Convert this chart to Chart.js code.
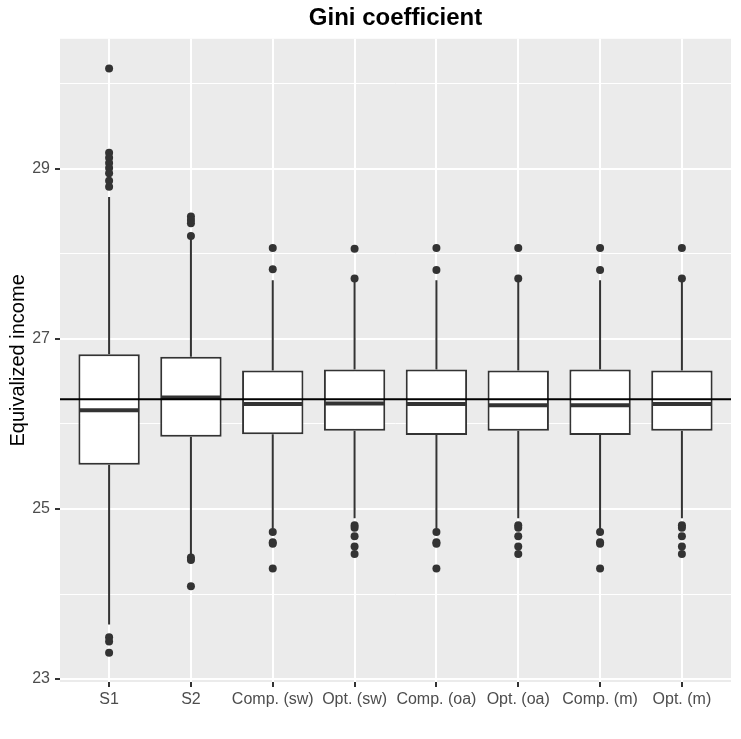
<!DOCTYPE html>
<html>
<head>
<meta charset="utf-8">
<script src="https://cdn.jsdelivr.net/npm/chart.js@4.4.1/dist/chart.umd.min.js"></script>
<style>
  html, body { margin: 0; padding: 0; background: #ffffff; }
  #wrap { width: 741px; height: 739px; }
</style>
</head>
<body>
<div id="wrap"><canvas id="chart"></canvas></div>
<script>
const categories = ["S1", "S2", "Comp. (sw)", "Opt. (sw)", "Comp. (oa)", "Opt. (oa)", "Comp. (m)", "Opt. (m)"];
const lowerWhisker = [23.64, 24.46, 24.77, 24.89, 24.77, 24.89, 24.76, 24.89];
const q1 = [25.52, 25.85, 25.88, 25.92, 25.87, 25.92, 25.87, 25.92];
const median = [26.16, 26.31, 26.235, 26.24, 26.235, 26.22, 26.22, 26.235];
const q3 = [26.82, 26.79, 26.63, 26.64, 26.64, 26.63, 26.64, 26.63];
const upperWhisker = [28.67, 28.19, 27.69, 27.69, 27.69, 27.69, 27.69, 27.69];
const outliers = [
  [30.18, 29.19, 29.13, 29.07, 29.01, 28.95, 28.86, 28.79, 23.49, 23.44, 23.31],
  [28.44, 28.40, 28.36, 28.21, 24.43, 24.40, 24.09],
  [28.07, 27.82, 24.73, 24.61, 24.59, 24.30],
  [28.06, 27.71, 24.81, 24.78, 24.68, 24.56, 24.47],
  [28.07, 27.81, 24.73, 24.61, 24.59, 24.30],
  [28.07, 27.71, 24.81, 24.78, 24.68, 24.56, 24.47],
  [28.07, 27.81, 24.73, 24.61, 24.59, 24.30],
  [28.07, 27.71, 24.81, 24.78, 24.68, 24.56, 24.47]
];
const meanLine = 26.29;
const yTicks = [23, 24, 25, 26, 27, 28, 29, 30];

const FONT = "'Liberation Sans', Arial, Helvetica, sans-serif";
const DARK = "#333333";

// points for the scatter layer
const outlierPoints = [];
outliers.forEach((list, i) => list.forEach(v => outlierPoints.push({ x: i, y: v })));

// panel background, whiskers under the boxes, medians + reference line on top
const boxExtras = {
  id: "boxExtras",
  beforeDraw(chart) {
    const { ctx, chartArea } = chart;
    ctx.save();
    ctx.fillStyle = "#EBEBEB";
    ctx.fillRect(chartArea.left, chartArea.top, chartArea.width, chartArea.height);
    ctx.restore();
  },
  beforeDatasetsDraw(chart) {
    const { ctx, scales: { x, y } } = chart;
    ctx.save();
    ctx.strokeStyle = DARK;
    ctx.lineWidth = 2;
    categories.forEach((c, i) => {
      const px = x.getPixelForValue(i);
      ctx.beginPath();
      ctx.moveTo(px, y.getPixelForValue(upperWhisker[i]));
      ctx.lineTo(px, y.getPixelForValue(q3[i]));
      ctx.moveTo(px, y.getPixelForValue(q1[i]));
      ctx.lineTo(px, y.getPixelForValue(lowerWhisker[i]));
      ctx.stroke();
    });
    ctx.restore();
  },
  afterDatasetsDraw(chart) {
    const { ctx, chartArea, scales: { y } } = chart;
    const meta = chart.getDatasetMeta(1);
    ctx.save();
    ctx.strokeStyle = DARK;
    ctx.lineWidth = 4;
    meta.data.forEach((bar, i) => {
      const { x: cx, width } = bar.getProps(["x", "width"], true);
      const py = y.getPixelForValue(median[i]);
      ctx.beginPath();
      ctx.moveTo(cx - width / 2 + 1, py);
      ctx.lineTo(cx + width / 2 - 1, py);
      ctx.stroke();
    });
    const my = y.getPixelForValue(meanLine);
    ctx.strokeStyle = "#000000";
    ctx.lineWidth = 2;
    ctx.beginPath();
    ctx.moveTo(chartArea.left, my);
    ctx.lineTo(chartArea.right, my);
    ctx.stroke();
    ctx.restore();
  }
};

new Chart(document.getElementById("chart"), {
  data: {
    datasets: [
      {
        type: "scatter",
        data: outlierPoints,
        pointRadius: 4,
        pointHoverRadius: 4,
        pointBackgroundColor: DARK,
        pointBorderWidth: 0
      },
      {
        type: "bar",
        data: categories.map((c, i) => ({ x: i, y: [q1[i], q3[i]] })),
        backgroundColor: "#FFFFFF",
        borderColor: DARK,
        borderWidth: 2,
        borderSkipped: false,
        barPercentage: 0.75,
        categoryPercentage: 1
      }
    ]
  },
  options: {
    responsive: true,
    maintainAspectRatio: false,
    animation: false,
    layout: { padding: { left: 0, right: 10, top: 0, bottom: 0 } },
    plugins: {
      legend: { display: false },
      tooltip: { enabled: false },
      title: {
        display: true,
        text: "Gini coefficient",
        color: "#000000",
        fullSize: false,
        font: { family: FONT, size: 24, weight: "bold" },
        padding: { top: 4, bottom: 6 }
      }
    },
    scales: {
      x: {
        type: "linear",
        offset: false,
        min: -0.6,
        max: 7.6,
        afterBuildTicks: (scale) => { scale.ticks = categories.map((c, i) => ({ value: i })); },
        afterFit: (scale) => { scale.height = 57; },
        ticks: {
          autoSkip: false,
          maxRotation: 0,
          padding: 3,
          color: "#4D4D4D",
          font: { family: FONT, size: 16 },
          callback: (v) => categories[v]
        },
        grid: {
          offset: false,
          color: "#FFFFFF",
          lineWidth: 2,
          tickColor: DARK,
          tickWidth: 2,
          tickLength: 5
        },
        border: { display: false }
      },
      y: {
        type: "linear",
        min: 22.965,
        max: 30.53,
        afterBuildTicks: (scale) => { scale.ticks = yTicks.map(v => ({ value: v })); },
        afterFit: (scale) => { scale.width = 60; },
        title: {
          display: true,
          text: "Equivalized income",
          color: "#000000",
          font: { family: FONT, size: 20 },
          padding: { top: 6, bottom: 0 }
        },
        ticks: {
          padding: 5,
          color: "#4D4D4D",
          font: { family: FONT, size: 16 },
          callback: (v) => (v % 2 === 1 ? String(v) : "")
        },
        grid: {
          color: "#FFFFFF",
          lineWidth: (c) => (c.tick && c.tick.value % 2 === 1 ? 2 : 1),
          tickColor: (c) => (c.tick && c.tick.value % 2 === 1 ? DARK : "rgba(0,0,0,0)"),
          tickWidth: 2,
          tickLength: 5
        },
        border: { display: false }
      }
    }
  },
  plugins: [boxExtras]
});
</script>
</body>
</html>
